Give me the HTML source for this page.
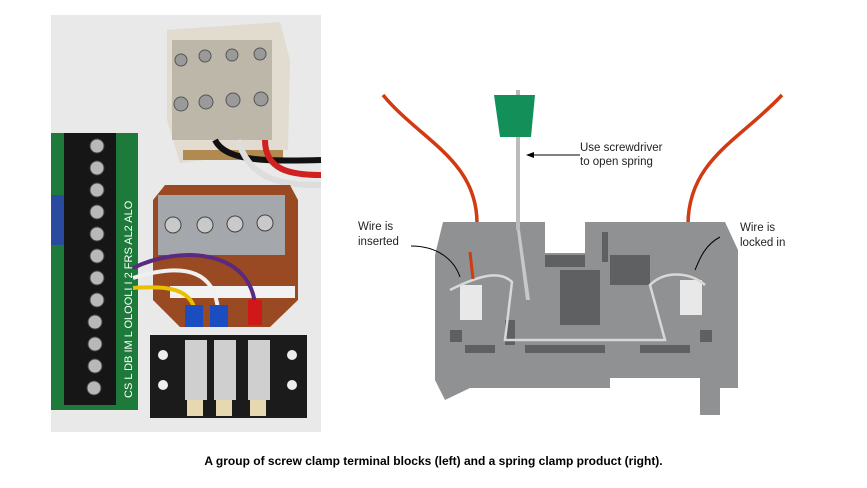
<!DOCTYPE html>
<html><head><meta charset="utf-8"><style>
html,body{margin:0;padding:0;background:#fff;width:867px;height:488px;overflow:hidden}
svg{position:absolute;left:0;top:0}
.cap{position:absolute;left:0;width:867px;top:454px;text-align:center;font:bold 12px "Liberation Sans",sans-serif;color:#000}
</style></head><body>
<svg width="867" height="488" viewBox="0 0 867 488" xmlns="http://www.w3.org/2000/svg">
<!-- LEFT PHOTO -->
<rect x="51" y="15" width="270" height="417" fill="#e9e9ea"/>
<polygon points="167,30 280,22 290,60 288,150 180,163 167,120" fill="#e2dcd0"/>
<rect x="172" y="40" width="100" height="100" fill="#bdb7aa"/>
<g fill="#9a9a9a" stroke="#555" stroke-width="1">
<circle cx="181" cy="60" r="6"/><circle cx="205" cy="56" r="6"/><circle cx="232" cy="55" r="6"/><circle cx="260" cy="54" r="6"/>
<circle cx="181" cy="104" r="7"/><circle cx="206" cy="102" r="7"/><circle cx="233" cy="100" r="7"/><circle cx="261" cy="99" r="7"/>
</g>
<rect x="183" y="150" width="100" height="10" fill="#b08a50"/>
<path d="M215,140 C225,160 260,162 321,160" stroke="#111" stroke-width="6" fill="none"/>
<path d="M238,140 C250,180 280,185 321,185" stroke="#ddd" stroke-width="6" fill="none"/>
<path d="M265,140 C265,170 290,175 321,175" stroke="#d02020" stroke-width="6" fill="none"/>
<rect x="51" y="133" width="87" height="277" fill="#1d7a3a"/>
<rect x="51" y="195" width="15" height="50" fill="#2a4aa0"/>
<rect x="64" y="133" width="52" height="272" fill="#161616"/>
<g fill="#b8b8b8" stroke="#444">
<circle cx="97" cy="146" r="7"/><circle cx="97" cy="168" r="7"/><circle cx="97" cy="190" r="7"/><circle cx="97" cy="212" r="7"/><circle cx="97" cy="234" r="7"/><circle cx="97" cy="256" r="7"/><circle cx="97" cy="278" r="7"/><circle cx="97" cy="300" r="7"/><circle cx="95" cy="322" r="7"/><circle cx="95" cy="344" r="7"/><circle cx="95" cy="366" r="7"/><circle cx="94" cy="388" r="7"/>
</g>
<text x="0" y="0" transform="translate(132,398) rotate(-90)" font-family="Liberation Sans,sans-serif" font-size="11" fill="#fff">CS  L  DB  IM  L  OLOOLI  I  2  FRS AL2 ALO</text>
<polygon points="165,185 290,185 298,200 298,300 270,327 180,327 153,300 153,200" fill="#9a4a22"/>
<rect x="158" y="195" width="127" height="60" fill="#a4a8ac"/>
<g fill="#c9c9c9" stroke="#444"><circle cx="173" cy="225" r="8"/><circle cx="205" cy="225" r="8"/><circle cx="235" cy="224" r="8"/><circle cx="265" cy="223" r="8"/></g>
<rect x="170" y="286" width="125" height="12" fill="#f2f2f2"/>
<path d="M133,268 C180,245 250,250 255,305" stroke="#5a2a80" stroke-width="4" fill="none"/>
<path d="M133,278 C190,260 215,275 218,310" stroke="#f0f0f0" stroke-width="4" fill="none"/>
<path d="M133,288 C170,285 190,290 195,310" stroke="#e8c000" stroke-width="4" fill="none"/>
<rect x="185" y="305" width="18" height="22" fill="#1a4ec0"/><rect x="210" y="305" width="18" height="22" fill="#1a4ec0"/><rect x="248" y="300" width="14" height="25" fill="#d01818"/>
<rect x="150" y="335" width="157" height="83" fill="#1b1b1b"/>
<g fill="#cfcfcf"><rect x="185" y="340" width="22" height="60"/><rect x="214" y="340" width="22" height="60"/><rect x="248" y="340" width="22" height="60"/></g>
<g fill="#eee"><circle cx="163" cy="355" r="5"/><circle cx="163" cy="385" r="5"/><circle cx="292" cy="355" r="5"/><circle cx="292" cy="385" r="5"/></g>
<g fill="#e6d8b0"><rect x="187" y="400" width="16" height="16"/><rect x="216" y="400" width="16" height="16"/><rect x="250" y="400" width="16" height="16"/></g>
<!-- RIGHT ILLUSTRATION -->
<path d="M383,95 C420,140 478,160 477,225" stroke="#d23a12" stroke-width="3.5" fill="none"/>
<path d="M782,95 C740,140 688,160 688,225" stroke="#d23a12" stroke-width="3.5" fill="none"/>
<polygon points="443,222 545,222 545,253 585,253 585,222 725,222 738,250 738,388 720,388 720,415 700,415 700,378 610,378 610,388 470,388 445,400 435,380 435,255" fill="#8f9192"/>
<g fill="#5e6061">
<rect x="545" y="255" width="40" height="12"/><rect x="610" y="255" width="40" height="30"/><rect x="505" y="320" width="10" height="25"/><rect x="560" y="270" width="40" height="55"/><rect x="465" y="345" width="30" height="8"/><rect x="525" y="345" width="80" height="8"/><rect x="640" y="345" width="50" height="8"/><rect x="450" y="330" width="12" height="12"/><rect x="700" y="330" width="12" height="12"/><rect x="602" y="232" width="6" height="30"/>
</g>
<rect x="516" y="90" width="4" height="140" fill="#bbb"/>
<polygon points="517,230 520,230 530,300 526,300" fill="#c8c8c8"/>
<polygon points="494,95 535,95 531,137 500,137" fill="#13905a"/>
<line x1="528" y1="155" x2="580" y2="155" stroke="#000" stroke-width="1"/>
<polygon points="526,155 534,152 534,158" fill="#000"/>
<rect x="460" y="285" width="22" height="35" fill="#e8e8e8"/>
<rect x="680" y="280" width="22" height="35" fill="#e8e8e8"/>
<path d="M450,290 C480,275 500,270 512,282 L505,340 L665,340 L650,285 C665,270 690,272 705,285" stroke="#d8d8d8" stroke-width="2.5" fill="none"/>
<line x1="473" y1="279" x2="470" y2="252" stroke="#d23a12" stroke-width="3"/>
<path d="M411,246 C440,246 455,262 460,277" stroke="#000" fill="none"/>
<path d="M720,237 C705,245 700,258 695,270" stroke="#000" fill="none"/>
<g font-family="Liberation Sans,sans-serif" font-size="11.5" fill="#222">
<text x="580" y="151">Use screwdriver</text><text x="580" y="165">to open spring</text>
<text x="358" y="230">Wire is</text><text x="358" y="245">inserted</text>
<text x="740" y="231">Wire is</text><text x="740" y="246">locked in</text>
</g>
</svg>
<div class="cap">A group of screw clamp terminal blocks (left) and a spring clamp product (right).</div>
</body></html>
